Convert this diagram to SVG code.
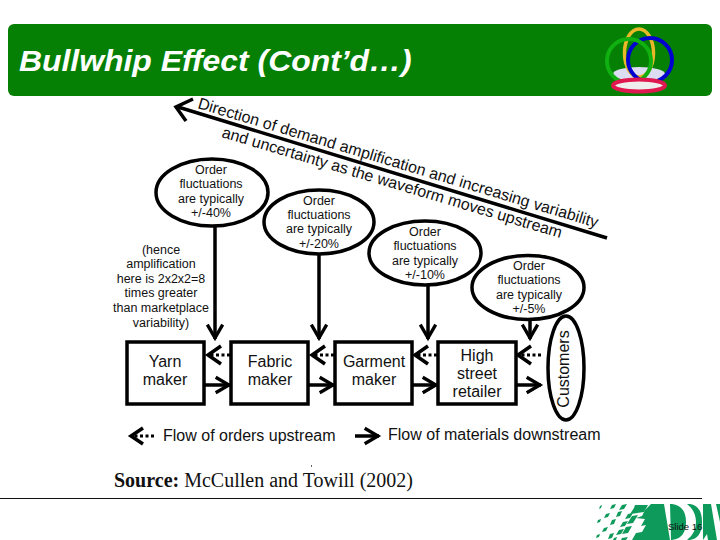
<svg xmlns="http://www.w3.org/2000/svg" width="720" height="540" viewBox="0 0 720 540">
<defs>
<marker id="open" viewBox="0 0 20 20" refX="17" refY="10" markerWidth="22" markerHeight="22" markerUnits="userSpaceOnUse" orient="auto"><path d="M4 3L16 10L4 17" fill="none" stroke="#000" stroke-width="3"/></marker>
</defs>
<style>
text{font-family:"Liberation Sans",Arial,sans-serif;fill:#111}
.n{font-size:12.500px;text-anchor:middle}
.b{font-size:16px;text-anchor:middle}
.l{font-size:16px}
.e{fill:#fff;stroke:#000;stroke-width:3.500}
.r{fill:#fff;stroke:#000;stroke-width:3.500}
.s{fill:none;stroke:#000;stroke-width:3.500}
.a{fill:none;stroke:#000;stroke-width:3.500;marker-end:url(#open)}
.d{fill:none;stroke:#000;stroke-width:3.200;stroke-dasharray:3 2.500}
.h{fill:none;stroke:#000;stroke-width:3.500}
.sl{font-size:16px}
</style>
<rect width="720" height="540" fill="#fff"/>
<g id="header">
<rect x="8" y="24" width="704" height="72" rx="6" fill="#058005"/>
<text transform="translate(19,71) scale(1.1,1)" style="font-family:'Liberation Sans',Arial,sans-serif;font-size:29px;font-weight:bold;font-style:italic;fill:#fff">Bullwhip Effect (Cont’d…)</text>
</g>
<g id="emblem" fill="none">
<ellipse cx="639" cy="74" rx="26" ry="7" fill="#dcdcf2" stroke="none"/>
<ellipse cx="639" cy="53" rx="14.500" ry="24" stroke="#e8b828" stroke-width="3.500"/>
<circle cx="650" cy="60" r="22" stroke="#0000d0" stroke-width="4"/>
<circle cx="629" cy="61" r="22" stroke="#10b010" stroke-width="4"/>
<ellipse cx="639" cy="85.500" rx="26" ry="6" fill="#eee" stroke="#e01850" stroke-width="4"/>
</g>
<g id="connectors">
<path d="M607 238L178 107" class="s"/>
<path d="M193 99L176 107L186 121" class="s"/>
<path d="M215 225V339" class="a"/>
<path d="M319 250V339" class="a"/>
<path d="M428 285V339" class="a"/>
<path d="M530 318V339" class="a"/>
<path d="M230 355H209" class="d"/><path d="M221 346L208 355L221 364" class="h"/>
<path d="M334 355H313" class="d"/><path d="M325 346L312 355L325 364" class="h"/>
<path d="M437 355H416" class="d"/><path d="M428 346L415 355L428 364" class="h"/>
<path d="M541 355H519" class="d"/><path d="M531 346L518 355L531 364" class="h"/>
<path d="M205 385H230" class="a"/>
<path d="M309 385H334" class="a"/>
<path d="M412 385H437" class="a"/>
<path d="M516 385H541" class="a"/>
<path d="M154 436H134" class="d"/><path d="M143 428L131 436L143 444" class="h"/>
<path d="M355 436H379" class="a"/>
</g>
<g id="direction-label">
<text class="sl" transform="translate(197,108) rotate(16.700)" textLength="417" lengthAdjust="spacing">Direction of demand amplification and increasing variability</text>
<text class="sl" transform="translate(221,137) rotate(16.600)" textLength="354" lengthAdjust="spacing">and uncertainty as the waveform moves upstream</text>
</g>
<g id="note40">
<ellipse class="e" cx="212" cy="192.500" rx="56" ry="33.500"/>
<text class="n" x="211" y="174">Order</text><text class="n" x="211" y="188">fluctuations</text><text class="n" x="211" y="203">are typically</text><text class="n" x="211" y="217">+/-40%</text>
</g>
<g id="note20">
<ellipse class="e" cx="319" cy="222" rx="55" ry="32"/>
<text class="n" x="319" y="205">Order</text><text class="n" x="319" y="219">fluctuations</text><text class="n" x="319" y="233">are typically</text><text class="n" x="319" y="248">+/-20%</text>
</g>
<g id="note10">
<ellipse class="e" cx="425" cy="253" rx="56" ry="32"/>
<text class="n" x="425" y="236">Order</text><text class="n" x="425" y="250">fluctuations</text><text class="n" x="425" y="265">are typically</text><text class="n" x="425" y="279">+/-10%</text>
</g>
<g id="note5">
<ellipse class="e" cx="528" cy="287.500" rx="56" ry="32"/>
<text class="n" x="529" y="270">Order</text><text class="n" x="529" y="284">fluctuations</text><text class="n" x="529" y="299">are typically</text><text class="n" x="529" y="313">+/-5%</text>
</g>
<g id="amplification-note">
<text class="n" x="161" y="254">(hence</text><text class="n" x="161" y="268">amplification</text><text class="n" x="161" y="283">here is 2x2x2=8</text><text class="n" x="161" y="297">times greater</text><text class="n" x="161" y="312">than marketplace</text><text class="n" x="161" y="327">variability)</text>
</g>
<g id="yarn">
<rect class="r" x="127" y="342" width="77" height="62"/>
<text class="b" x="165" y="367">Yarn</text><text class="b" x="165" y="385">maker</text>
</g>
<g id="fabric">
<rect class="r" x="231" y="342" width="77" height="62"/>
<text class="b" x="270" y="367">Fabric</text><text class="b" x="270" y="385">maker</text>
</g>
<g id="garment">
<rect class="r" x="335" y="342" width="77" height="62"/>
<text class="b" x="374" y="367">Garment</text><text class="b" x="374" y="385">maker</text>
</g>
<g id="retailer">
<rect class="r" x="438" y="342" width="78" height="62"/>
<text class="b" x="477" y="361">High</text><text class="b" x="477" y="379">street</text><text class="b" x="477" y="397">retailer</text>
</g>
<g id="customers">
<ellipse class="e" cx="566" cy="368" rx="18" ry="52"/>
<text class="b" transform="translate(569,369) rotate(-90)">Customers</text>
</g>
<g id="legend">
<text class="l" x="163" y="441">Flow of orders upstream</text>
<text class="l" x="388" y="440">Flow of materials downstream</text>
</g>
<g id="source">
<text x="114" y="487" style="font-family:'Liberation Serif','Times New Roman',serif;font-size:20px;fill:#111"><tspan font-weight="bold">Source:</tspan> McCullen and Towill (2002)</text>
<rect x="311" y="465" width="1" height="2" fill="#666"/>
<path d="M0 498.500H702" stroke="#111" stroke-width="1.200"/>
</g>
<g id="logo" fill="#0d9a5a">
<path d="M600 506l2-1-1 3-2 1zM598 520l3-1-1 3-3 1zM597 535l3-1-1 3-3 1zM612 505l4-1-2 4-4 1zM606 514l4-1-2 4-4 1zM604 528l4-1-2 4-4 1zM622 505l5-1-3 5-5 1zM618 512l4-1-2 5-4 1zM612 520l4-1-2 5-4 1zM610 534l4-1-2 5-4 1zM628 514l5-1-3 5-5 1zM623 522l5-1-3 5-5 1zM619 530l5-1-3 5-5 1zM614 538l3-1-1 3h-3z"/>
<path d="M635 505h8l-5 8-8 1 4-6zM640 505h8l-4 7-7 1zM632 516l6-1-5 8-6 1zM626 527l6-1-4 7-6 1zM622 538l6-1-2 3h-5z"/>
<path d="M636 518l6-2 3-6 6-6h7v36h-26l4-7 6-1 4-7-5 1 4-7z"/>
<path d="M658 504h6l6 36h-12zM672 504q14 2 14 18t-14 18h-1l-1-36zM690 504q12 2 12 18t-12 18h-3q9-7 9-18t-9-18zM703 504h8l6 36h-9l-1-6-4 6zM716 504h4v18z"/>
<text x="668" y="530" style="font-family:'Liberation Sans',Arial,sans-serif;font-size:9.500px;fill:#111">Slide 16</text>
</g>
</svg>
